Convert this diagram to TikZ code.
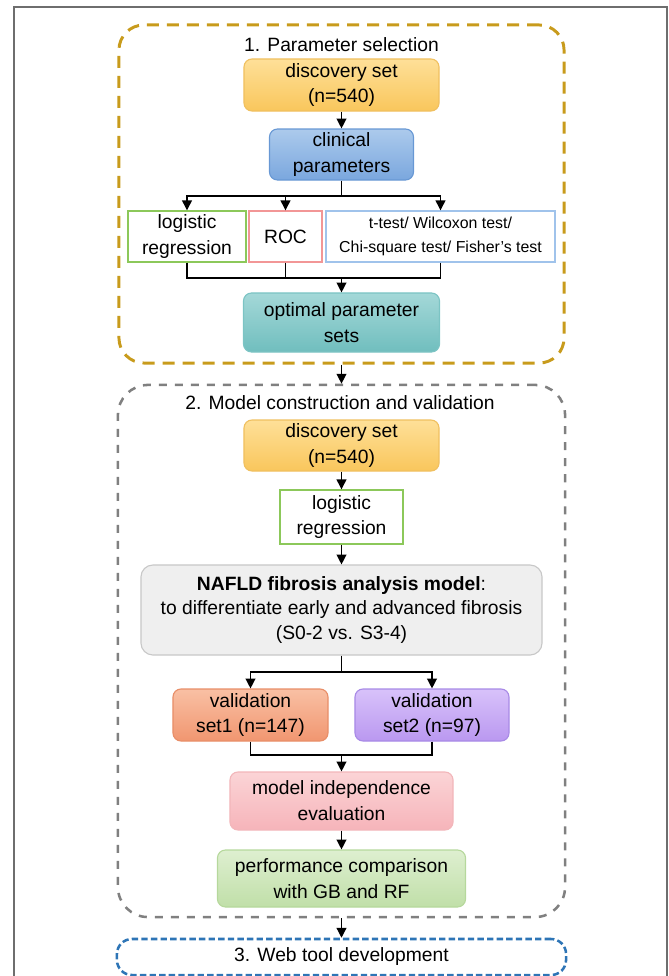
\documentclass[tikz,border=0pt]{standalone}
\usepackage{fontspec}
\setmainfont{Liberation Sans}
\usetikzlibrary{arrows.meta}

\definecolor{goldline}{RGB}{200,155,28}
\definecolor{grayline}{RGB}{128,128,128}
\definecolor{blueline}{RGB}{46,117,182}
\definecolor{pageline}{RGB}{110,110,110}

\tikzset{
  box/.style={rounded corners=0.2cm, line width=0.8pt, align=center, inner sep=0pt,
    font=\fontsize{13.7}{18.4}\selectfont},
  plainbox/.style={draw, line width=1pt, fill=white, align=center, inner sep=0pt,
    font=\fontsize{13.7}{18.4}\selectfont},
  stage/.style={align=center, inner sep=0pt, font=\fontsize{13.7}{18.4}\selectfont},
  link/.style={line width=0.9pt},
  arr/.style={line width=0.9pt, -{Triangle[length=7pt,width=7pt]}},
}

\begin{document}
\begin{tikzpicture}[x=0.025cm, y=-0.025cm]
  \useasboundingbox (0,0) rectangle (669,976);
  % page frame, open at the bottom
  \draw[pageline, line width=1.3pt] (14,990) -- (14,7) -- (667,7) -- (667,990);

  % 1. parameter selection
  \node[stage, draw=goldline, line width=2.1pt, dash pattern=on 0.3cm off 0.2cm,
    rounded corners=0.625cm, minimum width=11.125cm, minimum height=8.45cm] (stage1) at (341.5,194) {};
  \node[stage] (title1) at (341.5,45) {1. Parameter selection};
  \node[box, draw={rgb,255:red,240;green,192;blue,96}, top color={rgb,255:red,254;green,224;blue,152},
    bottom color={rgb,255:red,249;green,198;blue,92}, minimum width=4.875cm, minimum height=1.3cm]
    (disc1) at (341.5,85) {discovery set\\(n=540)};
  \node[box, draw={rgb,255:red,104;green,152;blue,212}, top color={rgb,255:red,172;green,202;blue,236},
    bottom color={rgb,255:red,122;green,167;blue,222}, minimum width=3.6cm, minimum height=1.275cm]
    (clin) at (341.5,154.5) {clinical\\parameters};
  \node[plainbox, draw={rgb,255:red,140;green,200;blue,90}, minimum width=2.95cm, minimum height=1.275cm]
    (logreg1) at (187,236.5) {logistic\\regression};
  \node[plainbox, draw={rgb,255:red,242;green,150;blue,150}, minimum width=1.825cm, minimum height=1.275cm]
    (roc) at (285.5,236.5) {ROC};
  \node[plainbox, draw={rgb,255:red,160;green,195;blue,235}, minimum width=5.725cm, minimum height=1.275cm,
    font=\fontsize{11.3}{17}\selectfont]
    (ttest) at (440.5,236.5) {t-test/ Wilcoxon test/\\Chi-square test/ Fisher’s test};
  \node[box, draw={rgb,255:red,124;green,196;blue,196}, top color={rgb,255:red,164;green,216;blue,216},
    bottom color={rgb,255:red,112;green,190;blue,190}, minimum width=4.9cm, minimum height=1.475cm]
    (opt) at (341.5,322.5) {optimal parameter\\sets};

  \coordinate (split1) at (341.5,196);
  \coordinate (merge1) at (341.5,278);
  \draw[arr] (disc1) -- (clin);
  \draw[link] (clin) -- (split1);
  \draw[arr] (split1) -| (logreg1);
  \draw[arr] (split1) -| (roc);
  \draw[arr] (split1) -| (ttest);
  \draw[link] (logreg1) |- (merge1);
  \draw[link] (roc) |- (merge1);
  \draw[link] (ttest) |- (merge1);
  \draw[arr] (merge1) -- (opt);

  % 2. model construction and validation
  \node[stage, draw=grayline, line width=1.8pt, dash pattern=on 0.2cm off 0.2cm,
    rounded corners=0.75cm, minimum width=11.175cm, minimum height=13.3cm] (stage2) at (341.5,651) {};
  \node[stage] (title2) at (340,403) {2. Model construction and validation};
  \node[box, draw={rgb,255:red,240;green,192;blue,96}, top color={rgb,255:red,254;green,224;blue,152},
    bottom color={rgb,255:red,249;green,198;blue,92}, minimum width=4.875cm, minimum height=1.275cm]
    (disc2) at (341.5,445.5) {discovery set\\(n=540)};
  \node[plainbox, draw={rgb,255:red,140;green,200;blue,90}, minimum width=3.075cm, minimum height=1.35cm]
    (logreg2) at (341.5,517) {logistic\\regression};
  \node[box, draw={rgb,255:red,200;green,200;blue,200}, fill={rgb,255:red,239;green,239;blue,239},
    minimum width=10.025cm, minimum height=2.25cm, rounded corners=0.3cm, font=\fontsize{13.7}{17.2}\selectfont]
    (nafld) at (341.5,610) {{\bfseries NAFLD fibrosis analysis model}:\\to differentiate early and advanced fibrosis\\(S0-2 vs. S3-4)};
  \node[box, draw={rgb,255:red,232;green,142;blue,104}, top color={rgb,255:red,249;green,192;blue,164},
    bottom color={rgb,255:red,241;green,150;blue,112}, minimum width=3.875cm, minimum height=1.3cm]
    (val1) at (250.5,715) {validation\\set1 (n=147)};
  \node[box, draw={rgb,255:red,168;green,138;blue,230}, top color={rgb,255:red,216;green,194;blue,250},
    bottom color={rgb,255:red,186;green,152;blue,240}, minimum width=3.85cm, minimum height=1.3cm]
    (val2) at (432,715) {validation\\set2 (n=97)};
  \node[box, draw={rgb,255:red,242;green,182;blue,186}, top color={rgb,255:red,251;green,212;blue,214},
    bottom color={rgb,255:red,246;green,180;blue,186}, minimum width=5.575cm, minimum height=1.45cm]
    (indep) at (341.5,801) {model independence\\evaluation};
  \node[box, draw={rgb,255:red,182;green,216;blue,156}, top color={rgb,255:red,222;green,239;blue,208},
    bottom color={rgb,255:red,192;green,223;blue,168}, minimum width=6.2cm, minimum height=1.425cm]
    (perf) at (341.5,878.5) {performance comparison\\with GB and RF};

  \coordinate (split2) at (341.5,672);
  \coordinate (merge2) at (341.5,755);
  \draw[arr] (stage1.south) -- (stage2.north);
  \draw[arr] (disc2) -- (logreg2);
  \draw[arr] (logreg2) -- (nafld);
  \draw[link] (nafld) -- (split2);
  \draw[arr] (split2) -| (val1);
  \draw[arr] (split2) -| (val2);
  \draw[link] (val1) |- (merge2);
  \draw[link] (val2) |- (merge2);
  \draw[arr] (merge2) -- (indep);
  \draw[arr] (indep) -- (perf);

  % 3. web tool
  \node[stage, draw=blueline, line width=1.8pt, dash pattern=on 0.16cm off 0.08cm,
    rounded corners=0.375cm, minimum width=11.225cm, minimum height=0.9cm] (stage3) at (341.5,957) {3. Web tool development};
  \draw[arr] (stage2.south) -- (stage3.north);
\end{tikzpicture}
\end{document}
